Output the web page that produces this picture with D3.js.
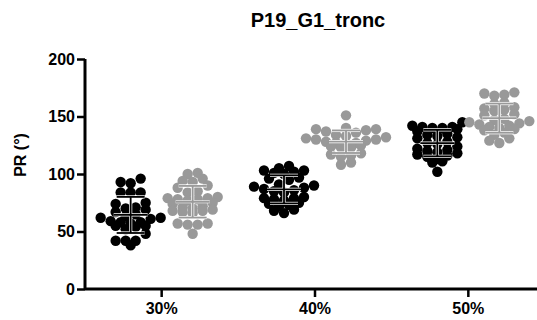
<!DOCTYPE html>
<html>
<head>
<meta charset="utf-8">
<script src="https://cdn.jsdelivr.net/npm/d3@7"></script>
<style>
  body { margin: 0; background: #fff; }
  text { font-family: "Liberation Sans", Arial, sans-serif; font-weight: bold; fill: #000; }
</style>
</head>
<body>
<svg id="chart" width="537" height="320"></svg>
<script>
// categories and series
var categories = ["30%", "40%", "50%"];
var series = ["black", "grey"];
var colors = { black: "#000000", grey: "#999999" };
var yTicks = [0, 50, 100, 150, 200];

// values, one array per group
var black30 = [96, 93, 92, 84, 84, 84, 75, 74, 71, 70, 69, 67, 65, 63, 62, 62, 61, 59, 58, 58, 57, 55, 55, 54, 52, 48, 42, 42, 42, 38];
var grey30 = [101, 100, 96, 94, 93, 90, 88, 85, 84, 80, 79, 79, 78, 78, 77, 75, 74, 72, 71, 70, 69, 68, 68, 67, 66, 57, 57, 56, 56, 48];
var black40 = [107, 105, 103, 103, 102, 101, 100, 97, 96, 95, 91, 90, 89, 88, 87, 86, 85, 84, 80, 79, 79, 78, 77, 75, 74, 73, 72, 69, 68, 66];
var grey40 = [151, 140, 139, 139, 138, 137, 136, 134, 133, 132, 131, 130, 130, 129, 128, 127, 127, 126, 125, 124, 123, 123, 118, 117, 116, 115, 110, 108];
var black50 = [145, 142, 141, 141, 140, 140, 139, 137, 135, 134, 133, 132, 131, 128, 127, 126, 124, 122, 121, 120, 119, 118, 117, 116, 115, 113, 111, 110, 102];
var grey50 = [171, 170, 169, 168, 162, 161, 158, 157, 156, 155, 152, 151, 148, 147, 146, 145, 144, 143, 142, 141, 140, 139, 138, 136, 134, 131, 129, 127];

var groups = [
  { cat: "30%", s: "black", values: black30 },
  { cat: "30%", s: "grey", values: grey30 },
  { cat: "40%", s: "black", values: black40 },
  { cat: "40%", s: "grey", values: grey40 },
  { cat: "50%", s: "black", values: black50 },
  { cat: "50%", s: "grey", values: grey50 }
];

var svg = d3.select("#chart");

var x = d3.scaleBand().domain(categories).range([85, 545]);
var xSub = d3.scalePoint().domain(series).range([-31, 31]);
var y = d3.scaleLinear().domain([0, 200]).range([289, 59]);

// title
svg.append("text")
  .attr("x", 318).attr("y", 27)
  .attr("text-anchor", "middle")
  .style("font-size", "20px")
  .text("P19_G1_tronc");

// y label
svg.append("text")
  .attr("transform", "translate(26,155) rotate(-90)")
  .attr("text-anchor", "middle")
  .style("font-size", "16px")
  .text("PR (°)");

// prism-like scatter: values binned into rows, lowest value in the middle of each row
function rows(values, cx) {
  var binSize = 7, spacing = 10;
  var bins = d3.groups(values, function(v) { return Math.floor(v / binSize); });
  var out = [];
  bins.forEach(function(b) {
    var vs = b[1].slice().sort(d3.ascending);
    var n = vs.length;
    var slots = d3.range(n).map(function(j) { return (j - (n - 1) / 2) * spacing; });
    slots.sort(function(a, c) { return Math.abs(a) - Math.abs(c) || a - c; });
    vs.forEach(function(v, i) {
      out.push({ x: cx + slots[i], y: y(v), v: v });
    });
  });
  return out;
}

var plot = svg.append("g");

groups.forEach(function(g) {
  var cx = x(g.cat) + x.bandwidth() / 2 + xSub(g.s);
  var pts = rows(g.values, cx);
  plot.append("g").selectAll("circle")
    .data(pts)
    .join("circle")
    .attr("cx", function(d) { return d.x; })
    .attr("cy", function(d) { return d.y; })
    .attr("r", 5.2)
    .attr("fill", colors[g.s]);

  // mean and SD
  var m = d3.mean(g.values), sd = d3.deviation(g.values);
  var bar = plot.append("g");
  var segs = [
    [cx, y(m - sd), cx, y(m + sd)],
    [cx - 17, y(m), cx + 17, y(m)],
    [cx - 14, y(m + sd), cx + 14, y(m + sd)],
    [cx - 14, y(m - sd), cx + 14, y(m - sd)]
  ];
  [["#fff", 3.2], [colors[g.s], 1.8]].forEach(function(st) {
    bar.selectAll(null)
      .data(segs)
      .join("line")
      .attr("x1", function(d) { return d[0]; })
      .attr("y1", function(d) { return d[1]; })
      .attr("x2", function(d) { return d[2]; })
      .attr("y2", function(d) { return d[3]; })
      .attr("stroke", st[0])
      .attr("stroke-width", st[1]);
  });
});

// axes
var yAxis = svg.append("g")
  .attr("transform", "translate(85,0)")
  .call(d3.axisLeft(y).tickValues(yTicks).tickSize(8).tickPadding(2));
var xAxis = svg.append("g")
  .attr("transform", "translate(0,289)")
  .call(d3.axisBottom(x).tickSize(8).tickPadding(6));

[yAxis, xAxis].forEach(function(a) {
  a.select(".domain").attr("stroke", "#000").attr("stroke-width", 3);
  a.selectAll(".tick line").attr("stroke", "#000").attr("stroke-width", 2.5);
  a.selectAll(".tick text")
    .style("font-size", "16px")
    .style("font-family", "'Liberation Sans', Arial, sans-serif")
    .style("font-weight", "bold")
    .attr("fill", "#000");
});
yAxis.select(".domain").attr("d", "M0,59V289");
xAxis.select(".domain").attr("d", "M85,0H537");
</script>
</body>
</html>
